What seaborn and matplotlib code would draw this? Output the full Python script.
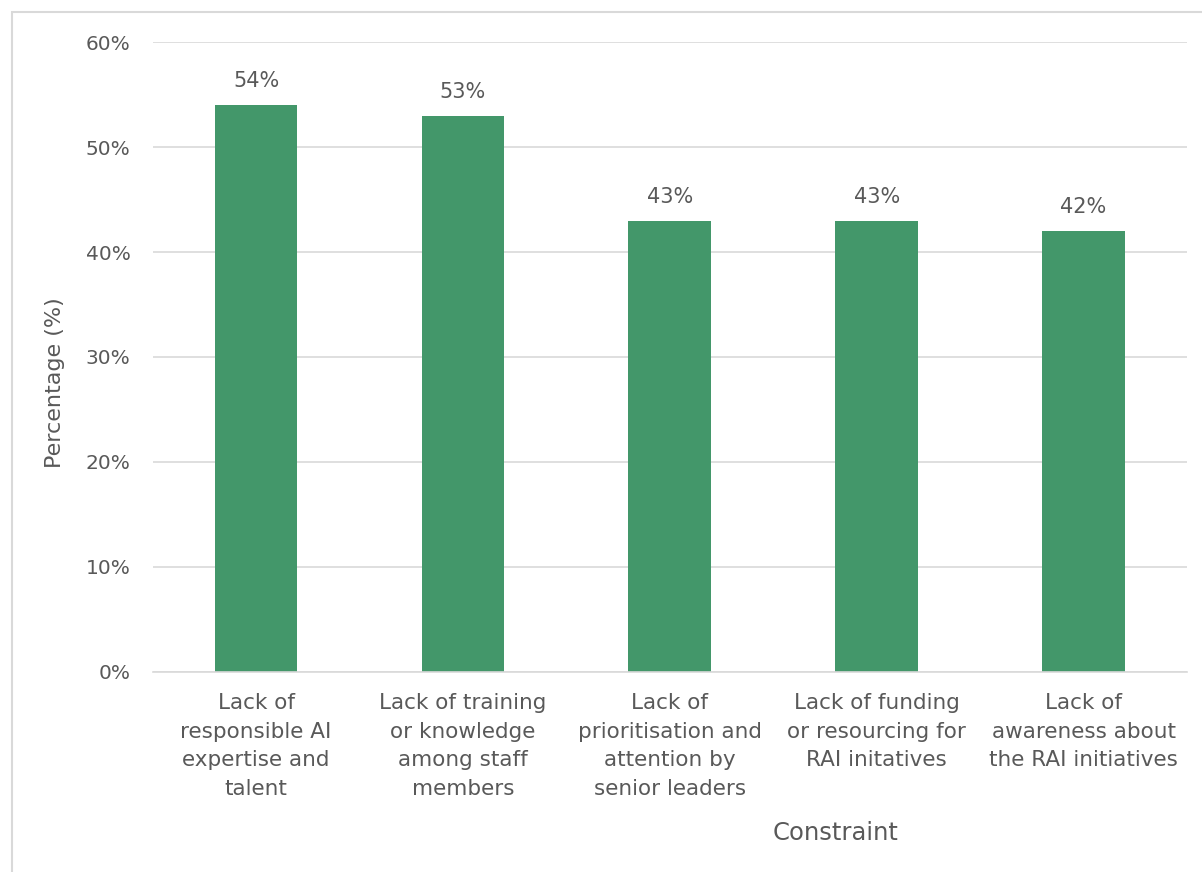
import matplotlib
matplotlib.use('Agg')
import matplotlib.pyplot as plt
import seaborn as sns
import pandas as pd
from matplotlib.patches import Rectangle

# Data
constraints = [
    'Lack of\nresponsible AI\nexpertise and\ntalent',
    'Lack of training\nor knowledge\namong staff\nmembers',
    'Lack of\nprioritisation and\nattention by\nsenior leaders',
    'Lack of funding\nor resourcing for\nRAI initatives',
    'Lack of\nawareness about\nthe RAI initiatives',
]
percentages = [54, 53, 43, 43, 42]
y_ticks = [0, 10, 20, 30, 40, 50, 60]

df = pd.DataFrame({'Constraint': constraints, 'Percentage': percentages})

sns.set_style('white')
plt.rcParams['font.family'] = ['DejaVu Sans']
text_color = '#595959'
bar_color = '#43976A'

fig = plt.figure(figsize=(12.02, 8.72), dpi=100)
ax = fig.add_axes([0.127, 0.2294, 0.8605, 0.7224])

sns.barplot(data=df, x='Constraint', y='Percentage', color=bar_color,
            width=0.4, saturation=1, linewidth=0, ax=ax)

# Value labels
for i, v in enumerate(percentages):
    ax.annotate(f'{v}%', (i, v), xytext=(0, 17), textcoords='offset points',
                ha='center', va='center', fontsize=15, color=text_color)

ax.set_ylim(0, 60)
ax.set_yticks(y_ticks)
ax.set_yticklabels([f'{t}%' for t in y_ticks], fontsize=14.5, color=text_color)
ax.tick_params(axis='x', labelsize=15.5, labelcolor=text_color, length=0, pad=15)
ax.tick_params(axis='y', length=0, pad=16)
for lbl in ax.get_xticklabels():
    lbl.set_linespacing(1.55)

ax.yaxis.grid(True, color='#D9D9D9', linewidth=1.2)
ax.set_axisbelow(True)
for s in ['top', 'right', 'left']:
    ax.spines[s].set_visible(False)
ax.spines['bottom'].set_color('#D9D9D9')
ax.spines['bottom'].set_linewidth(1.2)

ax.set_ylabel('Percentage (%)', fontsize=16, color=text_color)
ax.yaxis.set_label_coords(-0.085, 0.46)
ax.set_xlabel('Constraint', fontsize=17.5, color=text_color)
ax.xaxis.set_label_coords(0.66, -0.236)

# light outer border like the original chart frame
fig.patches.append(Rectangle((12 / 1202, -0.05), 1.1, 1 - 12 / 872 + 0.05,
                             transform=fig.transFigure, fill=False,
                             edgecolor='#D9D9D9', linewidth=1.5))

fig.savefig('out.png', dpi=100, facecolor='white')
